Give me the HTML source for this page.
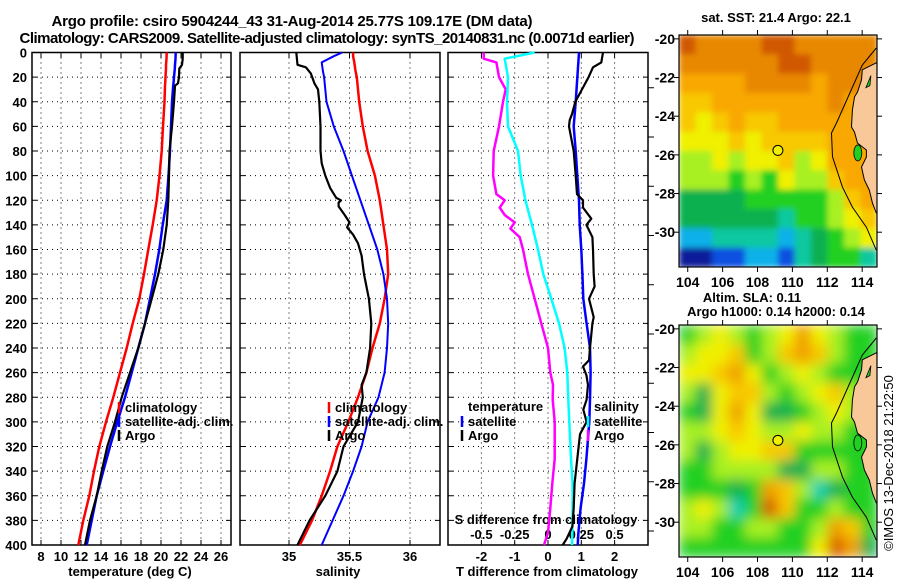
<!DOCTYPE html>
<html><head><meta charset="utf-8">
<style>
html,body{margin:0;padding:0;background:#fff;}
svg{display:block;font-family:"Liberation Sans",Arial,sans-serif;font-weight:bold;}
</style></head>
<body>
<svg id="chart" width="900" height="580" viewBox="0 0 900 580" xmlns="http://www.w3.org/2000/svg">
<defs>
<filter id="blurSla" x="0" y="0" width="1" height="1"><feGaussianBlur stdDeviation="6" edgeMode="duplicate"/></filter>
<filter id="blurSst" x="0" y="0" width="1" height="1"><feGaussianBlur stdDeviation="3" edgeMode="duplicate"/></filter>
<clipPath id="clipMap1"><rect x="679" y="35" width="198" height="232"/></clipPath>
<clipPath id="clipMap2"><rect x="679" y="325" width="198" height="232"/></clipPath>
</defs>
<g id="layer"></g>
</svg>
<script>
// ---------- Panel 1: temperature ----------
const tDepths = [0,5,10,13,20,25,27,40,60,80,100,120,140,160,180,200,220,240,260,280,300,320,340,360,380,400];
const tClim = [20.57,20.55,20.5,20.5,20.45,20.42,20.4,20.35,20.2,20.07,19.85,19.57,19.17,18.73,18.3,17.83,17.17,16.57,15.9,15.23,14.5,13.83,13.3,12.83,12.23,11.73];
const tSat = [21.47,21.45,21.4,21.38,21.3,21.25,21.22,21.1,21.0,20.9,20.75,20.57,20.17,19.83,19.4,18.9,18.4,17.73,17.07,16.4,15.63,14.9,14.23,13.57,13.07,12.57];
const tArgo = [22.17,22.17,22.1,21.83,21.8,21.7,21.4,21.3,21.1,20.85,20.8,20.73,20.57,20.23,19.73,19.07,18.4,17.73,16.9,16.07,15.4,14.63,14.07,13.57,12.9,12.4];
const tTicks = [8,10,12,14,16,18,20,22,24,26];
// ---------- Panel 2: salinity ----------
const sDepths = [0,3,8,15,20,40,60,80,100,120,140,160,180,200,220,240,260,280,300,320,340,360,380,400];
const sClim = [35.53,35.53,35.54,35.55,35.56,35.58,35.61,35.65,35.71,35.75,35.78,35.81,35.82,35.79,35.75,35.69,35.64,35.57,35.49,35.4,35.34,35.27,35.19,35.09];
const sSat = [35.44,35.37,35.27,35.28,35.29,35.31,35.37,35.45,35.52,35.59,35.66,35.73,35.78,35.81,35.82,35.81,35.79,35.74,35.65,35.6,35.53,35.45,35.36,35.27];
const sArgoDepths = [0,10,12,17,25,30,40,60,80,90,100,110,118,120,122,125,132,138,142,148,155,165,180,200,220,240,260,270,280,300,320,340,360,380,400];
const sArgo = [35.06,35.07,35.14,35.18,35.21,35.24,35.25,35.26,35.26,35.27,35.3,35.34,35.39,35.43,35.41,35.41,35.46,35.5,35.48,35.53,35.57,35.6,35.62,35.66,35.68,35.67,35.64,35.6,35.61,35.57,35.45,35.4,35.3,35.17,35.07];
const sTicks = [35,35.5,36];
// ---------- Panel 3: differences ----------
const dTArgoDepths = [0,5,8,20,30,40,60,80,100,115,120,126,132,138,143,150,160,180,200,220,240,260,270,282,300,330,350,370,390,400];
const dTArgo = [-1.93,-1.93,-1.55,-1.47,-1.27,-1.35,-1.47,-1.63,-1.65,-1.55,-1.3,-1.45,-1.3,-1.0,-1.13,-0.85,-0.75,-0.6,-0.4,-0.2,0,0.07,0.15,0.14,0.2,0.2,0.13,0.07,0,-0.12];
const dTSatDepths = [0,5,20,40,60,80,100,120,140,160,180,200,220,240,260,282,300,330,350,370,390,400];
const dTSat = [-0.4,-1.3,-1.2,-1.23,-1.2,-0.9,-0.82,-0.68,-0.48,-0.3,-0.14,0.1,0.33,0.5,0.58,0.61,0.64,0.69,0.74,0.74,0.73,0.72];
const dSSatDepths = [0,40,60,80,100,120,140,160,180,200,220,240,260,282,300,330,350,370,390,400];
const dSSat = [0.233,0.208,0.193,0.208,0.22,0.233,0.238,0.25,0.258,0.265,0.29,0.315,0.32,0.315,0.31,0.288,0.27,0.245,0.228,0.223];
const dSArgoDepths = [0,8,12,20,30,40,50,55,60,80,100,115,120,126,135,140,150,160,180,190,200,215,220,240,250,255,262,270,282,290,300,310,330,350,370,385,395,400];
const dSArgo = [0.413,0.4,0.338,0.305,0.255,0.205,0.18,0.163,0.158,0.193,0.208,0.218,0.263,0.263,0.325,0.288,0.333,0.338,0.343,0.35,0.308,0.343,0.333,0.315,0.308,0.263,0.288,0.3,0.29,0.265,0.29,0.24,0.22,0.2,0.193,0.183,0.14,0.11];
const dTTicks = [-2,-1,0,1,2];
const dSTicks = [-0.5,-0.25,0,0.25,0.5];
const dSTickLabels = ["-0.5","-0.25","0","0.25","0.5"];
const depthTicks = [0,20,40,60,80,100,120,140,160,180,200,220,240,260,280,300,320,340,360,380,400];
// ---------- Maps ----------
const sstGrid = [
[11,10,10,10,10,11,11,10,10,10,10,10],
[10,10,10,10,10,10,11,11,10,10,10,10],
[9,9,9,9,10,10,10,10,9,10,10,10],
[8,8,9,9,9,9,9,9,9,10,9,10],
[8,7,8,9,8,8,9,9,9,9,9,9],
[7,7,7,8,7,8,8,8,8,9,9,9],
[6,6,7,6,7,7,8,6,7,9,9,9],
[6,6,6,5,6,5,7,6,6,8,9,9],
[4,4,4,4,5,5,5,5,5,6,8,9],
[4,4,4,4,4,4,3,5,5,6,7,8],
[2,2,3,3,3,3,2,3,4,5,6,7],
[0,0,1,1,2,2,1,3,4,5,5,3]];
const slaGrid = [
[2,3,4,3,2,3,4,6,4,3,2,2],
[3,4,4,5,2,3,5,6,5,3,2,2],
[4,4,5,6,4,2,3,4,3,2,2,2],
[3,1,4,5,5,3,2,3,4,5,3,2],
[2,1,4,6,4,1,1,2,3,4,3,2],
[3,3,4,5,4,3,3,4,3,3,2,2],
[3,1,3,4,4,5,5,2,2,2,2,2],
[2,2,3,3,3,3,1,1,3,3,2,2],
[2,2,2,1,2,6,5,3,0,1,2,2],
[3,4,3,0,2,7,5,2,2,3,2,2],
[3,3,2,2,3,3,2,2,3,6,5,2],
[2,2,2,2,2,2,2,2,4,7,6,1]];
const lonTicks = [104,106,108,110,112,114];
const latTicks = [-20,-22,-24,-26,-28,-30];
const coastLon = [114.85,114.81,114.01,113.96,113.73,113.56,113.44,113.39,113.56,113.73,114.24,114.24,113.96,114.13,114.41,114.59,114.81,114.85];
const coastLat = [-21.2,-21.24,-21.6,-22.12,-22.75,-23.0,-23.68,-24.56,-24.82,-25.39,-25.75,-26.11,-26.63,-27.3,-27.82,-28.5,-29.0,-29.0];
const isoLon = [114.81,114.01,112.53,112.24,112.3,112.87,113.44,114.24,114.81];
const isoLat = [-20.47,-21.35,-24.35,-24.87,-26.1,-27.67,-28.7,-29.74,-30.93];
const argoLon = 109.17, argoLat = -25.77;

const NS = "http://www.w3.org/2000/svg";
const root = document.getElementById('layer');
function mk(tag, attrs, parent){
  const e = document.createElementNS(NS, tag);
  for (const k in attrs) e.setAttribute(k, attrs[k]);
  (parent||root).appendChild(e);
  return e;
}
function txt(s, x, y, anchor, size, parent){
  const t = mk('text', {x:x, y:y, 'text-anchor':anchor||'middle', 'font-size':size||13, fill:'#000'}, parent);
  t.textContent = s;
  return t;
}
const PT = 52.5, PB = 545;
function yD(d){ return PT + d*(PB-PT)/400; }
const xT = v => 41 + (v-8)*10;
const xS = v => 289 + (v-35)*121;
const xDT = v => 548 + v*33.3;
const xDS = v => 548 + v*4*33.3;

function panel(x0, x1, name, gridXs){
  const g = mk('g', {});
  
  
  depthTicks.forEach(d => {
    if (d>0 && d<400){
      const l = mk('line', {x1:x0, x2:x1, y1:yD(d), y2:yD(d), stroke:'#000', 'stroke-width':1, 'stroke-dasharray':'1,4'}, g);
      
      
    }
    mk('line', {x1:x0, x2:x0+5, y1:yD(d), y2:yD(d), stroke:'#000'}, g);
    mk('line', {x1:x1-5, x2:x1, y1:yD(d), y2:yD(d), stroke:'#000'}, g);
  });
  gridXs.forEach(x => {
    const l = mk('line', {x1:x, x2:x, y1:PT, y2:PB, stroke:'#000', 'stroke-width':1, 'stroke-dasharray':'1,4'}, g);
    
    
    mk('line', {x1:x, x2:x, y1:PB-5, y2:PB, stroke:'#000'}, g);
    mk('line', {x1:x, x2:x, y1:PT, y2:PT+5, stroke:'#000'}, g);
  });
  const r = mk('rect', {x:x0, y:PT, width:x1-x0, height:PB-PT, fill:'none', stroke:'#000', 'stroke-width':1.5}, g);
  
  
  return g;
}
function series(depths, vals, xf, color, w, name){
  const pts = depths.map((d,i)=> xf(vals[i]).toFixed(1)+','+yD(d).toFixed(1)).join(' ');
  const p = mk('polyline', {points:pts, fill:'none', stroke:color, 'stroke-width':w, 'stroke-linejoin':'round'});
  
  
  return p;
}
function legendItem(x, y, color, label, name){
  const b = mk('line', {x1:x, x2:x, y1:y-10, y2:y+1, stroke:color, 'stroke-width':2.5});
  
  
  const t = txt(label, x+6, y, 'start', 13);
  
  
}

// Titles
let t1 = txt('Argo profile: csiro 5904244_43 31-Aug-2014 25.77S 109.17E (DM data)', 292, 26, 'middle', 15);
t1.setAttribute('textLength', 481);


let t2 = txt('Climatology: CARS2009. Satellite-adjusted climatology: synTS_20140831.nc (0.0071d earlier)', 327, 43, 'middle', 15);
t2.setAttribute('textLength', 615);



// Panel 1
panel(32, 231, 'temperature-panel', tTicks.map(xT));
depthTicks.forEach(d => {
  const t = txt(String(d), 27, yD(d)+5, 'end', 13);
  
  
});
tTicks.forEach(v => {
  const t = txt(String(v), xT(v), 561, 'middle', 13);
  
  
});
let a1 = txt('temperature (deg C)', 130, 576, 'middle', 13);


series(tDepths, tClim, xT, '#ff0000', 2.5, 'temperature-climatology-line');
series(tDepths, tSat, xT, '#0000ff', 2.5, 'temperature-satellite-line');
series(tDepths, tArgo, xT, '#000000', 2.2, 'temperature-argo-line');
legendItem(119, 412, '#ff0000', 'climatology', 'temp-legend-climatology');
legendItem(119, 426, '#0000ff', 'satellite-adj. clim.', 'temp-legend-satellite');
legendItem(119, 440, '#000000', 'Argo', 'temp-legend-argo');

// Panel 2
panel(240, 440, 'salinity-panel', sTicks.map(xS));
sTicks.forEach(v => {
  const t = txt(String(v), xS(v), 561, 'middle', 13);
  
  
});
let a2 = txt('salinity', 338, 576, 'middle', 13);


series(sDepths, sClim, xS, '#ff0000', 2.5, 'salinity-climatology-line');
series(sDepths, sSat, xS, '#0000ff', 2, 'salinity-satellite-line');
series(sArgoDepths, sArgo, xS, '#000000', 2.2, 'salinity-argo-line');
legendItem(329, 412, '#ff0000', 'climatology', 'sal-legend-climatology');
legendItem(329, 426, '#0000ff', 'satellite-adj. clim.', 'sal-legend-satellite');
legendItem(329, 440, '#000000', 'Argo', 'sal-legend-argo');

// Panel 3
panel(448, 648, 'difference-panel', dTTicks.map(xDT));
for (let d=40; d<=400; d+=40){ mk('line', {x1:648, x2:654, y1:yD(d)-14, y2:yD(d)-14, stroke:'#000'}); }
dTTicks.forEach(v => {
  const t = txt(String(v), xDT(v), 561, 'middle', 13);
  
  
});
dSTicks.forEach((v,i) => {
  const t = txt(dSTickLabels[i], xDS(v), 539, 'middle', 13);
  
  
});
let a3 = txt('T difference from climatology', 547, 576, 'middle', 13);


let a4 = txt('S difference from climatology', 546, 524, 'middle', 13);


series(dTArgoDepths, dTArgo, xDT, '#ff00ff', 2.5, 't-diff-argo-line');
series(dTSatDepths, dTSat, xDT, '#00ffff', 2.5, 't-diff-satellite-line');
series(dSSatDepths, dSSat, xDS, '#0000ff', 2.5, 's-diff-satellite-line');
series(dSArgoDepths, dSArgo, xDS, '#000000', 2.2, 's-diff-argo-line');
let lt = txt('temperature', 468, 411, 'start', 13);


legendItem(462, 426, '#0000ff', 'satellite', 'diff-legend-t-satellite');
legendItem(462, 440, '#000000', 'Argo', 'diff-legend-t-argo');
let ls = txt('salinity', 594, 411, 'start', 13);


legendItem(588, 426, '#00ffff', 'satellite', 'diff-legend-s-satellite');
legendItem(588, 440, '#ff00ff', 'Argo', 'diff-legend-s-argo');

// Maps
const sstPal = ['#0a1e9a','#1050e0','#10b0e8','#10c8a0','#10b050','#20d020','#a8f020','#f0f000','#f8c800','#f8a800','#e88800','#d05800'];
const slaPal = ['#10d0b0','#10b050','#20d020','#a8f020','#f0f000','#f8c800','#f0a000','#d86000'];
const LON0 = 103.5, LON1 = 114.85, LAT0 = -19.8, LAT1 = -31.8;
function drawMap(top, grid, pal, name, clipId, filterId){
  const L = 679, R = 877, B = top + 232;
  const lx = lon => L + (lon-LON0)*(R-L)/(LON1-LON0);
  const ly = lat => top + (lat-LAT0)*(B-top)/(LAT1-LAT0);
  const g = mk('g', {});
  
  
  const cg = mk('g', {'clip-path':'url(#'+clipId+')'}, g);
  const cells = mk('g', {filter:'url(#'+filterId+')'}, cg);
  const rows = grid.length, cols = grid[0].length;
  const cw = (R-L)/cols, ch = (B-top)/rows;
  grid.forEach((row, r) => row.forEach((v, c) => {
    const cell = mk('rect', {x:(L+c*cw).toFixed(1), y:(top+r*ch).toFixed(1), width:(cw+0.6).toFixed(1), height:(ch+0.6).toFixed(1), fill:pal[v]}, cells);
    
    
  }));
  const land = mk('polygon', {points: coastLon.map((o,i)=>lx(o).toFixed(1)+','+ly(coastLat[i]).toFixed(1)).join(' ')+' '+R+','+ly(-21.2), fill:'#f8c898', stroke:'#000', 'stroke-width':1}, g);
  
  
  mk('ellipse', {cx:lx(113.75), cy:ly(-25.9), rx:4, ry:8, fill:'#20d020', stroke:'#000', 'stroke-width':0.8}, g);
  mk('path', {d:`M${lx(114.5)},${ly(-21.9)} l-5,12 l4,-2 z`, fill:'#20d020', stroke:'#000', 'stroke-width':0.8}, g);
  const iso = mk('polyline', {points: isoLon.map((o,i)=>lx(o).toFixed(1)+','+ly(isoLat[i]).toFixed(1)).join(' '), fill:'none', stroke:'#000', 'stroke-width':1}, g);
  
  
  const dot = mk('circle', {cx:lx(argoLon), cy:ly(argoLat), r:5, fill:'#f0f000', stroke:'#000', 'stroke-width':1}, g);
  
  
  mk('rect', {x:L, y:top, width:R-L, height:B-top, fill:'none', stroke:'#000', 'stroke-width':1.2}, g);
  lonTicks.forEach(o => {
    mk('line', {x1:lx(o), x2:lx(o), y1:top-5, y2:top, stroke:'#000'}, g);
    mk('line', {x1:lx(o), x2:lx(o), y1:B, y2:B+5, stroke:'#000'}, g);
    const t = txt(String(o), lx(o), B+20, 'middle', 14, g);
    
    
  });
  latTicks.forEach(a => {
    mk('line', {x1:L-5, x2:L, y1:ly(a), y2:ly(a), stroke:'#000'}, g);
    mk('line', {x1:R, x2:R+5, y1:ly(a), y2:ly(a), stroke:'#000'}, g);
    const t = txt(String(a), L-4, ly(a)+5, 'end', 14, g);
    
    
  });
}
drawMap(35, sstGrid, sstPal, 'sst-map', 'clipMap1', 'blurSst');
drawMap(325, slaGrid, slaPal, 'sla-map', 'clipMap2', 'blurSla');
let m1 = txt('sat. SST: 21.4 Argo: 22.1', 776, 22, 'middle', 13);


let m2 = txt('Altim. SLA: 0.11', 752, 302, 'middle', 13);


let m3 = txt('Argo h1000: 0.14 h2000: 0.14', 776, 316, 'middle', 13);


let cp = txt('©IMOS 13-Dec-2018 21:22:50', 0, 0, 'middle', 13);
cp.setAttribute('transform', 'translate(893,463) rotate(-90)');
cp.setAttribute('font-weight', 'normal');


</script>
</body></html>
